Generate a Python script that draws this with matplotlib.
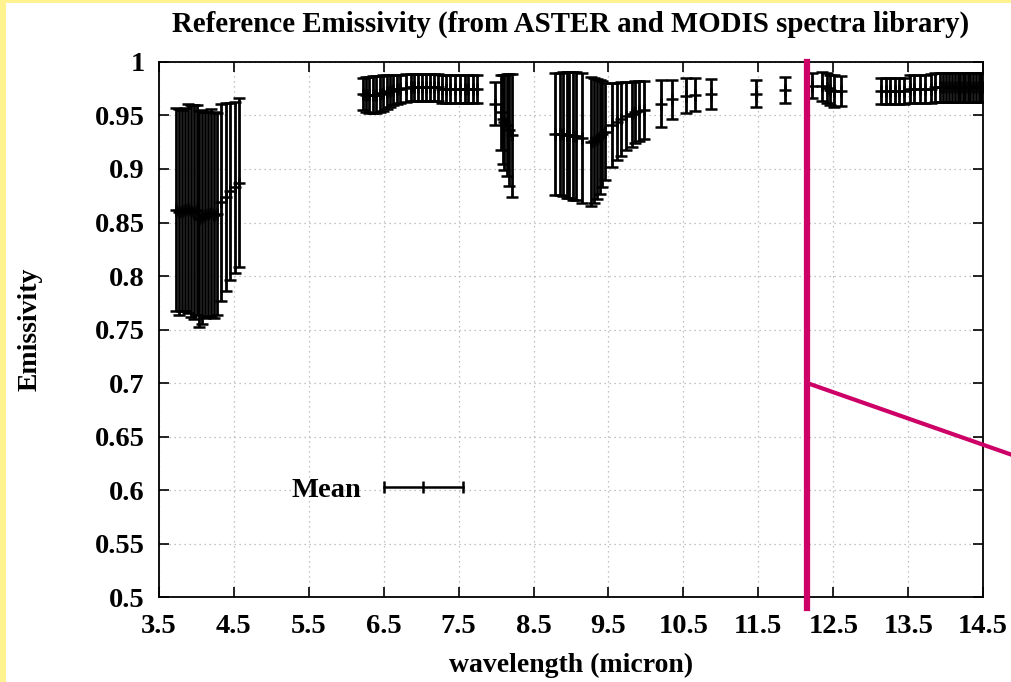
import numpy as np
import matplotlib
matplotlib.use("Agg")
import matplotlib.pyplot as plt
from matplotlib.lines import Line2D
from matplotlib.patches import Rectangle

plt.rcParams['font.family'] = ['Liberation Serif', 'DejaVu Serif']
plt.rcParams['font.weight'] = 'bold'

# spectral band centres (micron), mean emissivity and spread
wave = [3.73, 3.77, 3.81, 3.85, 3.89, 3.93, 3.97, 4.01, 4.04, 4.07,
        4.11, 4.15, 4.19, 4.23, 4.27, 4.33, 4.39, 4.45, 4.51, 4.57,
        6.22, 6.27, 6.31, 6.36, 6.40, 6.45, 6.49, 6.54, 6.58, 6.63,
        6.68, 6.72, 6.80, 6.86, 6.91, 6.96, 7.01, 7.06, 7.12, 7.17,
        7.22, 7.28, 7.33, 7.38, 7.45, 7.52, 7.58, 7.63, 7.69, 7.75,
        7.98, 8.07, 8.09, 8.11, 8.14, 8.17, 8.21,
        8.78, 8.85, 8.89, 8.94, 8.97, 9.02, 9.07, 9.14,
        9.27, 9.31, 9.35, 9.39, 9.42, 9.46,
        9.55, 9.61, 9.67, 9.74, 9.81, 9.86, 9.91, 9.98,
        10.20, 10.35, 10.54, 10.65, 10.87, 11.47, 11.85,
        12.22, 12.35, 12.41, 12.46, 12.51, 12.60,
        13.14, 13.20, 13.26, 13.33, 13.38, 13.45, 13.52, 13.58, 13.66, 13.73,
        13.80, 13.86, 13.92, 13.97, 14.01, 14.05, 14.09, 14.12, 14.16, 14.19,
        14.23, 14.26, 14.30, 14.33, 14.37, 14.40, 14.44, 14.47, 14.50]

mean = [0.862, 0.860, 0.861, 0.862, 0.863, 0.861, 0.860, 0.862, 0.853, 0.855,
        0.857, 0.858, 0.859, 0.857, 0.858, 0.869, 0.874, 0.879, 0.883, 0.887,
        0.970, 0.9695, 0.969, 0.9695, 0.9695, 0.970, 0.971, 0.972, 0.973, 0.974,
        0.9745, 0.975, 0.976, 0.9765, 0.9765, 0.9765, 0.9765, 0.9765, 0.9765, 0.9765,
        0.9765, 0.975, 0.975, 0.975, 0.975, 0.975, 0.975, 0.975, 0.975, 0.975,
        0.961, 0.953, 0.9465, 0.9435, 0.941, 0.9365, 0.9315,
        0.933, 0.933, 0.933, 0.932, 0.932, 0.931, 0.931, 0.929,
        0.9255, 0.9265, 0.928, 0.930, 0.9325, 0.935,
        0.941, 0.944, 0.9465, 0.9495, 0.951, 0.953, 0.954, 0.955,
        0.961, 0.965, 0.9685, 0.9695, 0.970, 0.9705, 0.974,
        0.978, 0.9775, 0.976, 0.974, 0.973, 0.973,
        0.973, 0.973, 0.973, 0.973, 0.973, 0.973, 0.975, 0.975, 0.975, 0.975,
        0.975, 0.9765, 0.9765, 0.9765, 0.9765, 0.9765, 0.9765, 0.9765, 0.9765, 0.9765,
        0.9765, 0.9765, 0.9765, 0.9765, 0.9765, 0.9765, 0.9765, 0.9765, 0.9765]

spread = [0.095, 0.096, 0.094, 0.095, 0.098, 0.099, 0.100, 0.098, 0.101, 0.100,
          0.096, 0.095, 0.097, 0.096, 0.094, 0.092, 0.088, 0.083, 0.080, 0.079,
          0.015, 0.0165, 0.017, 0.0175, 0.0175, 0.017, 0.017, 0.016, 0.015, 0.014,
          0.0135, 0.013, 0.013, 0.0125, 0.0125, 0.0125, 0.0125, 0.0125, 0.0125, 0.0125,
          0.0125, 0.013, 0.013, 0.013, 0.013, 0.013, 0.013, 0.013, 0.013, 0.013,
          0.020, 0.035, 0.0415, 0.0445, 0.048, 0.0525, 0.0575,
          0.057, 0.057, 0.058, 0.059, 0.059, 0.060, 0.060, 0.061,
          0.0605, 0.0585, 0.056, 0.053, 0.0495, 0.045,
          0.039, 0.036, 0.0345, 0.0315, 0.030, 0.029, 0.028, 0.027,
          0.022, 0.018, 0.0165, 0.0155, 0.014, 0.0125, 0.012,
          0.012, 0.0135, 0.014, 0.014, 0.015, 0.014,
          0.012, 0.012, 0.012, 0.0125, 0.0125, 0.0125, 0.013, 0.013, 0.013, 0.013,
          0.0135, 0.0135, 0.0135, 0.0135, 0.0135, 0.0135, 0.0135, 0.0135, 0.0135, 0.0135,
          0.0135, 0.0135, 0.0135, 0.0135, 0.0135, 0.0135, 0.0135, 0.0135, 0.0135]

xticks = [3.5, 4.5, 5.5, 6.5, 7.5, 8.5, 9.5, 10.5, 11.5, 12.5, 13.5, 14.5]
yticks = [0.5, 0.55, 0.6, 0.65, 0.7, 0.75, 0.8, 0.85, 0.9, 0.95, 1.0]
ytick_labels = ['0.5', '0.55', '0.6', '0.65', '0.7', '0.75', '0.8', '0.85', '0.9', '0.95', '1']

# highlighted cut wavelength and the slanted marker line
cut_x = [12.15, 12.15]
cut_y = [0.49, 1.0]
slant_x = [12.15, 15.0]
slant_y = [0.70, 0.63]

fig = plt.figure(figsize=(10.12, 6.82), dpi=100, facecolor='#fff38f')
fig.patches.append(Rectangle((6 / 1012, 0), 1, 1 - 3 / 682, transform=fig.transFigure,
                             facecolor='white', edgecolor='none', zorder=-1))
ax = fig.add_axes([0.157, 0.1246, 0.8145, 0.7845])

ax.errorbar(wave, mean, yerr=spread, fmt='+', color='black', ms=8, mew=1.8,
            elinewidth=2.0, capsize=4.5, capthick=1.8, zorder=3)

ax.set_xlim(3.5, 14.5)
ax.set_ylim(0.5, 1.0)
ax.set_xticks(xticks)
ax.set_xticklabels([str(t) for t in xticks])
ax.set_yticks(yticks)
ax.set_yticklabels(ytick_labels)
ax.tick_params(direction='in', length=7, width=1.2, top=True, right=True,
               labelsize=20.5)
ax.tick_params(axis='x', pad=12)
ax.tick_params(axis='y', pad=10)
for s in ax.spines.values():
    s.set_linewidth(1.3)
ax.grid(True, color='#b0b0b0', linestyle=(0, (1, 3)), linewidth=0.9)

ax.set_title('Reference Emissivity (from ASTER and MODIS spectra library)',
             fontsize=20.8, fontweight='bold', pad=22)
ax.set_xlabel('wavelength (micron)', fontsize=20, fontweight='bold', labelpad=10)
ax.set_ylabel('Emissivity', fontsize=20, fontweight='bold', labelpad=38)

handle = Line2D([], [], color='black', lw=1.8, marker='|', ms=9, mew=1.8)
ax.legend([handle], ['Mean'], numpoints=3, markerfirst=False, frameon=False,
          handlelength=3.4, handletextpad=0.5, fontsize=20.5, loc='center',
          bbox_to_anchor=(0.27, 0.2))

ax.plot(cut_x, cut_y, color='#cc0066', lw=4.5, clip_on=False, zorder=5)
ax.plot(slant_x, slant_y, color='#cc0066', lw=3.0, clip_on=False, zorder=5,
        solid_capstyle='butt')

fig.savefig('out.png', dpi=100, facecolor=fig.get_facecolor())
